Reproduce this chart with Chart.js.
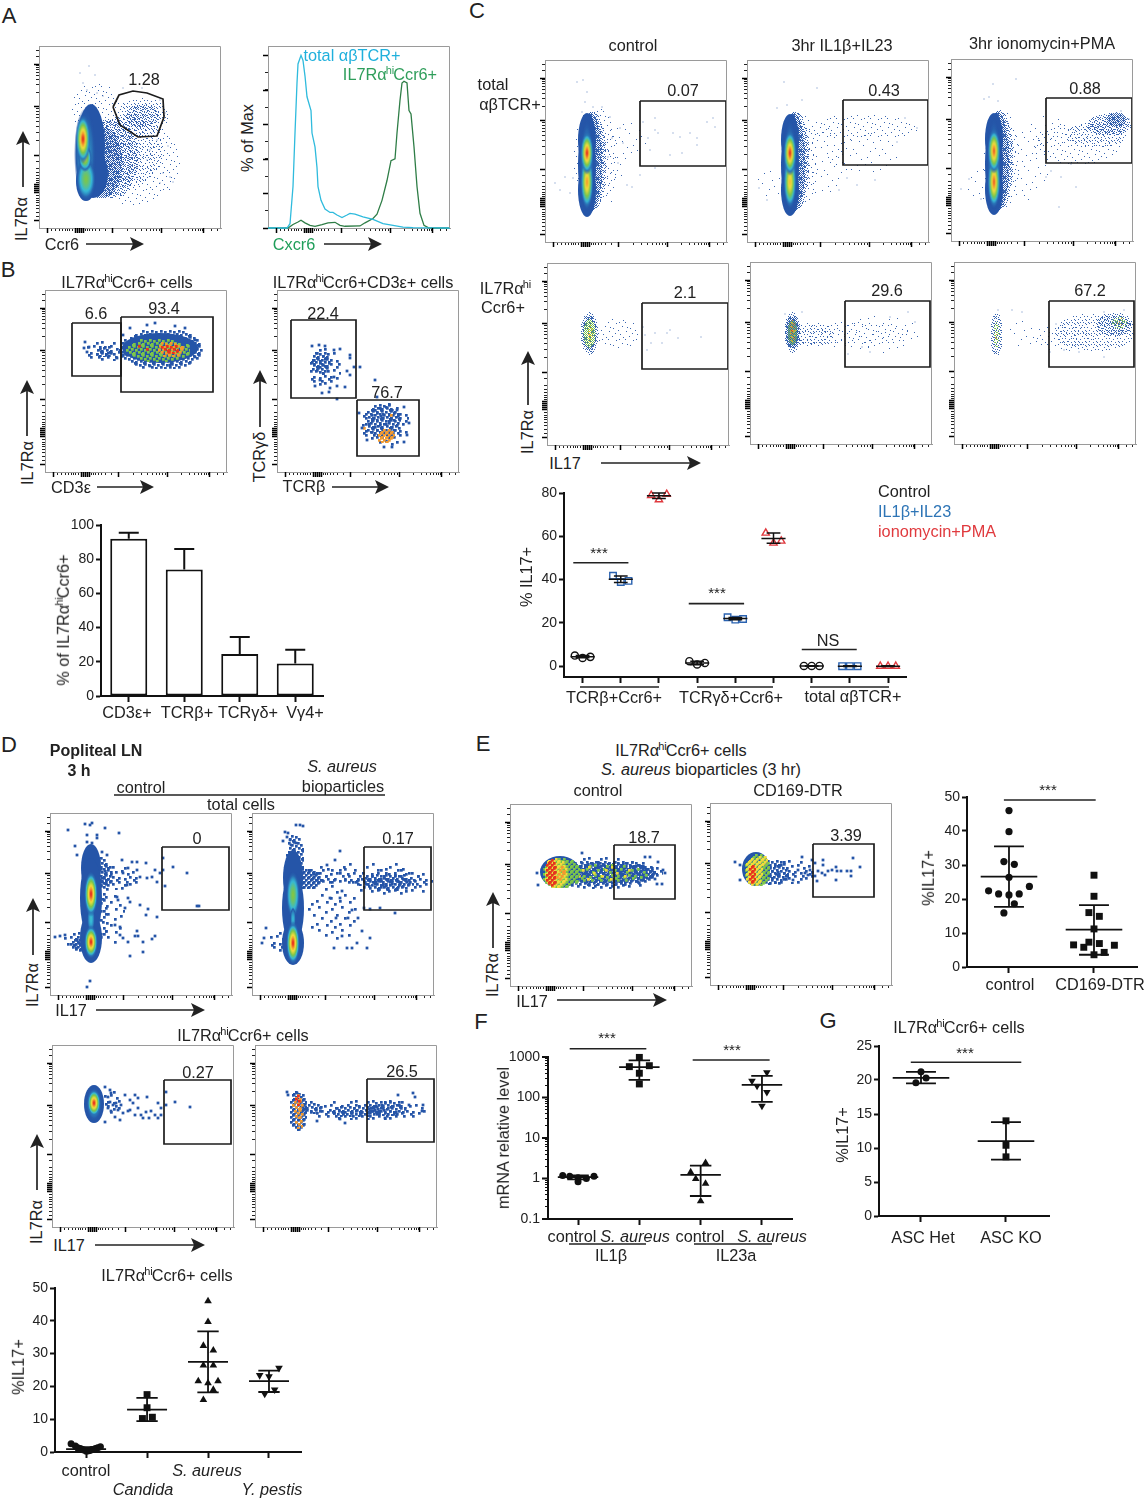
<!DOCTYPE html>
<html><head><meta charset="utf-8"><title>IL7Ra hi Ccr6+ cells</title>
<script src="https://cdn.jsdelivr.net/npm/chart.js@4"></script>
<style>
html,body{margin:0;padding:0;background:#fff}
#fig{position:relative;width:1146px;height:1500px;overflow:hidden;font-family:"Liberation Sans",Arial,sans-serif;color:#222}
#fig canvas{position:absolute}
#fig svg{position:absolute;left:0;top:0}
.t{position:absolute;white-space:nowrap;line-height:1;font-size:16.3px}
sup{font-size:11px;line-height:0;vertical-align:6px;margin:0 -1px}
</style></head><body><div id="fig"></div>
<script>
/* ---------- panel A histogram: [Cxcr6 channel, % of Max] ---------- */
const histTotal=[[0,0],[19,0],[22,2.5],[25,24],[27,55],[29,84],[30,95],[33,100],[35,97],[37,88],[39,76],[40,74],[43,68],[44,55],[47,47],[49,35],[50,24],[53,16],[57,11],[62,9],[65,9],[69,7.5],[74,6],[79,7.5],[82,8.5],[87,8],[95,6.5],[105,5],[115,2.5],[125,1.5],[135,.5],[145,.2],[182,0]];
const histGated=[[0,0],[20,0],[25,2],[30,3.5],[33,4.5],[37,3],[42,1.5],[47,1],[54,2],[60,3],[67,3.3],[72,1.5],[77,1],[92,1.2],[97,3],[105,5.5],[109,8],[114,16],[119,27.5],[123,39],[127,40],[129,55],[132,74],[134,84],[136,85],[139,84],[141,68],[143,66],[146,47],[149,24],[152,8.5],[156,1.5],[161,0],[182,0]];
/* ---------- panel B bars ---------- */
const barCats=['CD3ε+','TCRβ+','TCRγδ+','Vγ4+'];
const barVals=[92,74,24.5,19];
const barErrTop=[95.5,86,34.5,27];
/* ---------- panel C %IL17+ : [category position, value] ---------- */
const cCtrl=[[.797,4.9],[1,3.8],[1.203,4.3],[3.797,2.3],[4,.8],[4.203,1.5],[6.797,.1],[7,.1],[7.203,.1]];
const cIL=[[1.797,41.8],[2,38.9],[2.203,39.4],[4.797,22.6],[5,21.5],[5.203,21.8],[7.797,0],[8,0],[8.203,0]];
const cIono=[[2.797,78.9],[3,76.9],[3.203,79.4],[5.797,61.5],[6,56.9],[6.203,57.8],[8.797,0],[9,0],[9.203,0]];
const cStats=[[1,4.4,3.9,4.9],[2,40.1,38.6,41.6],[3,78.7,77.5,80],[4,1.5,.7,2.3],[5,22,21.5,22.5],[6,59,56.8,61.5],[7,.1,0,.2],[8,0,-.2,.2],[9,0,-.2,.2]];
const cSig=[[.756,2.2,47.8],[3.78,5.23,28.9],[6.74,8.18,7.7]];
/* ---------- panel D dot plot ---------- */
const dCtrl=[[.754,2.5],[.825,1.8],[.863,1.3],[.907,1.1],[.934,.8],[.962,.6],[1.005,.2],[1.044,.4],[1.07,.5],[1.098,.8],[1.153,1.1],[1.19,1.3],[1.235,1.6]];
const dCandida=[[2,17.5],[2,13.5],[1.924,10.2],[2.087,10.6]];
const dAureus=[[3,46],[3,39.7],[2.924,32.4],[3.087,31],[2.924,26.4],[3.087,26.4],[2.84,21.6],[3,21],[3.164,21.6],[3.087,19],[2.924,15.9]];
const dPestis=[[4.164,25.6],[3.847,23.4],[4,23],[4.093,19],[3.93,17.7]];
const dStats=[[1,.9,.4,1.5],[2,12.9,9.4,16.5],[3,27.5,18.2,36.8],[4,21.6,18.3,24.8]];
/* ---------- panel E dot plot ---------- */
const eCtrl=[[1,46],[1,39.8],[.94,31],[1.063,30.2],[1,26.4],[1.24,23.7],[.76,22.4],[.878,21.5],[1,21.2],[1.12,21.5],[1.063,18.6],[.94,15.9]];
const eDtr=[[2,27],[2,20.8],[1.94,16],[2.063,14.9],[2,11.2],[1.76,6.5],[1.94,7.3],[2.063,6.9],[2.24,6.4],[1.88,5.8],[2.12,4.3],[2,3.6]];
const eStats=[[1,26.6,17.7,35.5],[2,11,3.6,18.2]];
/* ---------- panel F mRNA ---------- */
const fCtrl1=[[.75,1.18],[.864,1.14],[1,.83],[1.136,1],[1.26,1.14],[1,1.04]];
const fAureus1=[[2,977],[1.837,578],[2.163,610],[2,397],[2,216]];
const fCtrl2=[[3.08,2.43],[2.837,1.43],[2.92,.98],[3.08,.75],[3,.277]];
const fAureus2=[[4.08,417],[3.837,258],[3.92,193],[4.08,135],[4,62]];
const fStats=[[1,1.08,.95,1.2],[2,560,272,825],[3,1.23,.37,2.09],[4,204,78,342]];
const fSig=[[.864,2.114,1600],[2.87,4.125,843]];
const fDecades=[.1,1,10,100,1000];
const fMinor=[.2,.3,.4,.5,.6,.7,.8,.9,2,3,4,5,6,7,8,9,20,30,40,50,60,70,80,90,200,300,400,500,600,700,800,900];
/* ---------- panel G ---------- */
const gHet=[[1,21.2],[1.06,20.3],[.94,19.6]];
const gKo=[[2,14],[2,10.4],[2,8.7]];
const gStats=[[1,20.3,19.5,21.2],[2,11,8.3,13.8]];
/* ---------- flow cytometry plot axes (channel positions, shared) ---------- */
const flowMinor=[12,16,20,23,26,28,30,33,46,48,50,53,56,60,66,88,96,102,107,111,114,117,120,136,144,149,153,156,159,161,163,172,178];
const flowMajor=[8,36,38,40,42,44,73,122,164];
const histMajor=[0,20,40,60,80,100];
const histMinor=[10,30,50,70,90];
/* ---------- flow gates: corners ---------- */
const gateA=[[74,61],[80,49],[94,45],[108,47],[124,53],[125,71],[118,90],[99,91],[81,79],[74,61]];
const gatesB1=[[27,33,76,86],[76,27,168,102]];
const gatesB2=[[14,30,79,108],[80,110,142,166]];
const gatesC1=[[95,41,181,106]],gatesC2=[[96,40,181,105]],gatesC3=[[95,39,181,104]];
const gatesC4=[[95,40,181,106]],gatesC5=[[95,39,180,105]],gatesC6=[[95,39,180,105]];
const gatesD1=[[112,34,179,97]],gatesD2=[[112,34,179,97]],gatesD3=[[112,35,179,99]],gatesD4=[[112,34,179,97]];
const gatesE1=[[104,41,165,95]],gatesE2=[[103,41,164,94]];
/* ---------- density clouds: [x,y,spreadX,spreadY,level]; level number=density peak, string=sparse region ---------- */
const cloudsA=[[95,115,46,44,'f1b'],[56,62,24,26,'f1b'],[85,105,38,36,'f2b'],[102,70,27,19,'f2b'],[103,69,17,12,'f3b'],[72,112,27,40,'f3b'],[62,116,21,36,'f4b'],[52,100,14,42,0],[54,128,15,24,0],[47,135,10,20,0],[46,108,11,46,.2],[47,133,10,22,.5],[46,112,7,14,.68],[44,93,7.5,25,1]];
const cloudsC1=[[50,95,22,48,'f1b'],[75,80,28,20,'f0b'],[55,115,24,30,'f0b'],[47,100,14,50,'f3b'],[45,102,12,50,'f4b'],[42,80,9,27,0],[42,130,9,27,0],[42,105,9,40,0],[42,105,7,46,.22],[42,122,6.5,28,.88],[42,93,6.5,22,1]];
const cloudsC2=[[115,67,56,13,'f1b'],[115,92,36,20,'f0b'],[75,100,25,36,'f0b'],[25,125,18,15,'f0b'],[52,100,18,48,'f1b'],[48,100,14,50,'f3b'],[46,102,12,50,'f4b'],[43,80,9,26,0],[43,130,9,26,0],[43,105,9,40,0],[43,105,7,46,.22],[43,122,6.5,27,.82],[43,93,6.5,23,1]];
const cloudsC3=[[125,85,46,20,'f1b'],[100,72,24,16,'f0b'],[70,105,30,36,'f0b'],[30,125,14,16,'f0b'],[145,75,30,14,'f2b'],[158,65,22,11,'f3b'],[165,60,10,7,'f4b'],[50,100,18,50,'f1b'],[48,100,14,50,'f3b'],[46,102,12,50,'f4b'],[43,80,9,26,0],[43,130,9,26,0],[43,105,9,40,0],[43,105,7,46,.22],[43,123,6.5,27,.95],[43,92,6.5,23,.95]];
const cloudsC4=[[70,70,22,15,'f1b'],[42,70,9,21,'f3b'],[42,70,7,17,'f4b'],[42,70,6,14,'f4g'],[43,70,3,9,'f3y'],[42,68,2,6,'f2o']];
const cloudsC5=[[125,72,46,19,'f0b'],[100,72,60,13,'f1b'],[62,72,22,12,'f2b'],[42,70,8,20,'f3b'],[42,70,7,16,'f4b'],[42,70,5,13,'f4g'],[42,68,3,11,'f3o'],[42,64,2,5,'f2r']];
const cloudsC6=[[110,75,30,14,'f1b'],[70,72,18,14,'f0b'],[140,70,40,19,'f2b'],[160,62,18,12,'f3b'],[165,60,8,6,'f3g'],[165,59,4,4,'f2o'],[42,72,6,22,'f3b'],[42,72,3,13,'f3g'],[42,72,2,6,'f2o']];
const cloudsB1=[[60,60,20,10,'c2b'],[58,60,10,6,'c3b'],[115,58,42,20,'c3b'],[115,58,38,15,0],[112,59,32,12,'c3g'],[95,55,8,8,'c1r'],[124,58,14,8,'c3o'],[124,58,9,5,'c3r']];
const cloudsB2=[[47,77,16,20,'c2b'],[42,72,10,12,'c3b'],[107,133,24,22,'c2b'],[105,130,18,18,'c3b'],[108,145,9,7,'c4o'],[103,123,4,3,'c2r'],[115,125,3,3,'c1o'],[88,138,3,3,'c1o']];
const cloudsD1=[[68,64,22,12,'c2b'],[60,105,14,28,'c1b'],[30,127,18,9,'c2b'],[50,60,12,16,'c3b'],[50,90,8,40,'c2b'],[32,130,12,8,'c4b'],[41,55,10,24,0],[41,85,11,40,0],[41,125,11,25,0],[41,106,4,15,.28],[41,129,7,17,1],[41,81,7,23,1]];
const cloudsD2=[[80,100,25,30,'c1b'],[110,60,60,12,'c1b'],[140,68,40,14,'c2b'],[135,68,26,9,'c3b'],[85,62,26,8,'c2b'],[30,128,14,11,'c2b'],[55,65,14,10,'c4b'],[42,45,9,25,'c3b'],[41,65,10,28,0],[41,95,11,36,0],[41,130,11,22,0],[41,82,7,24,.52],[41,106,3,12,.25],[41,130,7,22,1]];
const cloudsD3=[[60,56,10,12,'c2b'],[42,59,10,19,0],[42,59,8,17,.3],[42,58,7,14,1]];
const cloudsD4=[[110,64,60,10,'c2b'],[100,65,30,6,'c3b'],[130,62,20,8,'c3b'],[42,65,9,20,'c4b'],[55,62,12,6,'c3b'],[42,60,6,13,'c3o'],[42,55,3,5,'c3r'],[43,78,4,5,'c3o']];
const cloudsE1=[[90,68,62,16,'c2b'],[95,68,52,13,'c3b'],[95,68,50,10,'c4b'],[95,68,44,9,'c2g'],[90,68,36,8,'c1y'],[50,68,20,16,0],[50,68,19,15,'c4g'],[45,68,12,15,'c4y'],[40,68,6,14,'c4r'],[50,68,5,8,'c3o']];
const cloudsE2=[[75,68,30,12,'c2b'],[60,68,18,13,'c3b'],[46,66,14,17,0],[46,66,13,16,'c4g'],[43,68,9,14,'c4y'],[41,70,4,11,'c4r'],[52,57,5,5,'c4y']];
/* ---------- sparse events ---------- */
const dotsA=[[50,20],[41,27],[56,29],[44,37],[48,44],[58,47],[64,50],[129,100],[134,136],[121,137],[124,127],[131,131],[84,42],[103,42],[121,54],[126,67],[118,94],[111,104],[108,114],[98,121],[88,131]];
const dotsC1=[[65,57],[75,68],[78,83],[67,78],[63,97],[73,103],[82,125],[87,127],[95,115],[110,108],[110,58],[98,62],[110,70],[103,78],[113,73],[105,90],[125,95],[135,77],[145,73],[152,78],[162,62],[168,58],[170,67],[152,85],[128,73],[137,93],[20,117],[15,130],[10,123],[25,133],[28,118],[32,22],[38,20],[42,32],[40,42],[57,47],[37,52],[48,47]];
const dotsC2=[[37,22],[40,45],[30,48],[55,40],[70,28],[158,58],[170,68],[150,82],[128,120],[110,125],[100,118],[12,128],[20,140],[92,130]];
const dotsC3=[[42,25],[38,38],[33,40],[47,42],[65,20],[170,52],[178,60],[120,105],[100,112],[125,128],[95,118],[108,148],[110,118],[18,120],[10,130],[30,140]];
const dotsC4=[[98,72],[104,80],[108,70],[131,75],[154,74],[123,67],[115,80],[100,87],[96,64],[120,70]];
const dotsC5=[[35,52],[52,50],[158,50],[165,60],[112,85],[98,92],[120,90],[140,55]];
const dotsC6=[[44,48],[58,48],[68,50],[102,62],[110,88],[125,90],[150,95],[96,90],[150,50],[170,48]];
const dotsB1=[[39,58],[44,57],[150,50],[152,58],[150,67],[110,33],[102,35],[42,62],[40,52],[78,45],[72,68],[85,38],[130,36],[140,38],[125,75],[105,76]];
const dotsB2=[[42,55],[48,56],[35,56],[57,60],[63,59],[73,65],[73,68],[83,77],[77,77],[70,81],[73,85],[68,97],[60,96],[53,98],[45,103],[52,102],[60,109],[38,96],[43,90],[57,87],[98,90],[100,107],[127,117],[132,133],[130,145],[127,152],[120,120],[82,123],[85,138],[90,150],[107,157],[115,157]];
const dotsD1=[[42,10],[35,11],[40,12],[18,17],[55,15],[69,20],[37,22],[47,22],[47,25],[37,29],[42,30],[25,33],[27,42],[52,39],[57,42],[72,47],[82,49],[87,49],[96,50],[78,55],[87,57],[105,57],[110,60],[73,60],[90,64],[97,65],[102,64],[107,69],[115,73],[113,57],[113,45],[123,54],[137,60],[147,93],[149,93],[77,72],[78,85],[80,89],[67,84],[68,87],[75,95],[90,92],[98,96],[96,102],[107,104],[65,112],[70,114],[87,118],[88,123],[70,122],[73,125],[78,129],[85,123],[105,123],[102,126],[93,129],[80,143],[93,139],[5,124],[10,123],[15,122],[40,168],[37,174]];
const dotsD2=[[48,12],[51,13],[44,12],[33,19],[36,20],[31,28],[35,24],[38,27],[39,32],[44,30],[88,38],[83,47],[75,52],[90,78],[100,97],[112,95],[118,96],[128,95],[143,100],[110,118],[118,125],[100,135],[105,130],[95,135],[115,135],[82,135],[90,123],[78,85],[88,85],[84,105],[96,105],[106,105],[14,115],[12,125],[10,130]];
const dotsD3=[[53,42],[58,45],[59,48],[56,52],[58,57],[61,60],[64,58],[69,60],[66,65],[56,63],[59,66],[63,72],[68,75],[53,77],[73,50],[78,55],[83,50],[86,53],[95,52],[81,58],[86,63],[78,65],[71,68],[76,66],[83,70],[89,70],[91,73],[97,73],[94,67],[103,70],[99,66],[109,63],[106,58],[109,70],[114,47],[114,60],[123,57],[138,62],[106,73]];
const dotsD4=[[32,47],[42,48],[33,50],[90,78],[85,74],[62,76],[167,66],[158,48],[143,50],[130,73],[160,52],[154,60],[168,60]];
const dotsE1=[[27,69],[28,81],[32,66],[72,49],[153,66],[152,80],[147,80],[140,53],[135,53],[155,69],[145,75],[148,58]];
const dotsE2=[[25,59],[30,62],[30,77],[92,54],[102,57],[105,60],[113,57],[113,62],[108,68],[105,73],[107,78],[118,68],[122,67],[126,64],[126,77],[127,68],[131,68],[137,68],[141,68],[141,73],[143,55],[150,64],[112,70],[115,72],[100,67],[98,72],[95,70],[88,67],[83,77]];
/* ---------- text ---------- */
const A='IL7Rα',HI=A+'<sup>hi</sup>Ccr6+';
const texts=[
['A',9,16,{s:22}],['B',8,270,{s:22}],['C',477,11,{s:22}],['D',9,745,{s:22}],['E',483,744,{s:22}],['F',481,1022,{s:22}],['G',828,1021,{s:22}],
[A,21,219,{r:1}],['Ccr6',62,244],['1.28',144,79],['% of Max',247,138,{r:1}],['Cxcr6',294,244,{c:'#1f9e5a'}],['total αβTCR+',352,55,{c:'#1fb0dc'}],[HI,390,74,{c:'#2f9e5b'}],
[HI+' cells',127,282],[HI+'CD3ε+ cells',363,282],
['6.6',96,313],['93.4',164,308],['22.4',323,313],['76.7',387,392],[A,27,463,{r:1}],['CD3ε',71,487],['TCRγδ',259,457,{r:1}],['TCRβ',304,486],
['% of '+HI,63,620,{r:1}],[barCats[0],127,712],[barCats[1],187,712],[barCats[2],248,712],[barCats[3],305,712],
['control',633,45],['3hr IL1β+IL23',842,45],['3hr ionomycin+PMA',1042,43],['total',493,84],['αβTCR+',510,104],[A+'<sup>hi</sup>',505,288],['Ccr6+',503,307],
['0.07',683,90],['0.43',884,90],['0.88',1085,88],['2.1',685,292],['29.6',887,290],['67.2',1090,290],[A,527,432,{r:1}],['IL17',565,463],
['Control',878,491,{a:'l'}],['IL1β+IL23',878,511,{a:'l',c:'#2e75b6'}],['ionomycin+PMA',878,531,{a:'l',c:'#e03a3e'}],
['% IL17+',526,577,{r:1}],['***',599,552,{s:15}],['***',717,592,{s:15}],['NS',828,640],['TCRβ+Ccr6+',614,697],['TCRγδ+Ccr6+',731,697],['total αβTCR+',853,696],
['Popliteal LN',96,751,{b:1,s:16}],['3 h',79,771,{b:1,s:16}],['control',141,787],['<i>S. aureus</i>',342,766],['bioparticles',343,786],['total cells',241,804],
['0',197,838],['0.17',398,838],[A,32,985,{r:1}],['IL17',71,1010],[HI+' cells',243,1035],['0.27',198,1072],['26.5',402,1071],[A,36,1222,{r:1}],['IL17',69,1245],
[HI+' cells',167,1275],['%IL17+',18,1367,{r:1}],['control',86,1470],['<i>Candida</i>',143,1489],['<i>S. aureus</i>',207,1470],['<i>Y. pestis</i>',272,1489],
[HI+' cells',681,750],['<i>S. aureus</i> bioparticles (3 hr)',701,769],['control',598,790],['CD169-DTR',798,790],['18.7',644,837],['3.39',846,835],[A,492,975,{r:1}],['IL17',532,1001],
['%IL17+',928,878,{r:1}],['***',1048,789,{s:15}],['control',1010,984],['CD169-DTR',1100,984],
['***',607,1037,{s:15}],['***',732,1049,{s:15}],['mRNA relative level',503,1138,{r:1}],['control',572,1236],['<i>S. aureus</i>',635,1236],['control',700,1236],['<i>S. aureus</i>',772,1236],['IL1β',611,1255],['IL23a',736,1255],
[HI+' cells',959,1027],['***',965,1052,{s:15}],['%IL17+',842,1135,{r:1}],['ASC Het',923,1237],['ASC KO',1011,1237]
];
/* decoration: arrows and group underlines */
const arrows=[[23,187,23,131],[86,244,144,244],[324,244,382,244],[27,436,27,380],[97,487,154,487],[260,427,260,370],[332,487,389,487],[528,405,528,351],[601,463,701,463],[33,955,33,898],[96,1010,205,1010],[37,1190,37,1134],[95,1245,205,1245],[493,948,493,892],[557,1000,667,1000]];
const rules=[[580,687,659,687],[697,687,773,687],[810,687,889,687],[114,795,385,795],[569,1244,646,1244],[694,1244,772,1244]];

const FONT='"Liberation Sans",Arial,sans-serif';
Chart.defaults.font.family=FONT;Chart.defaults.color='#222';
const fig=document.getElementById('fig');
const pts=a=>a.map(p=>({x:p[0],y:p[1]}));

function newCanvas(l,t,w,h){const c=document.createElement('canvas');c.width=w;c.height=h;c.style.cssText=`left:${l}px;top:${t}px;width:${w}px;height:${h}px`;fig.appendChild(c);return c}
const base=()=>({responsive:false,animation:false,events:[],plugins:{legend:{display:false},tooltip:{enabled:false}}});

/* density sprite used as the point style */
const STOPS=[[0,[37,85,168]],[.25,[54,185,214]],[.5,[124,198,74]],[.75,[240,220,60]],[.88,[243,154,46]],[1,[229,40,30]]];
function cmap(p,al=1){let i=1;while(i<STOPS.length-1&&p>STOPS[i][0])i++;const [a,ca]=STOPS[i-1],[b,cb]=STOPS[i];const t=Math.min(1,Math.max(0,(p-a)/(b-a)));const c=ca.map((v,j)=>Math.round(v+(cb[j]-v)*t));return `rgba(${c[0]},${c[1]},${c[2]},${al})`}
const TILES={
 f0:[29,[[3,5],[17,2],[26,9],[9,14],[21,17],[2,22],[13,26],[25,24],[7,28],[19,11],[11,4],[28,18],[5,10],[16,20]]],
 f1:[17,[[1,2],[9,0],[14,5],[5,6],[11,9],[2,11],[7,13],[15,14],[12,3],[4,16],[8,5],[16,10]]],
 f2:[11,[[0,1],[3,0],[7,2],[10,0],[1,4],[5,5],[9,4],[3,7],[7,8],[0,8],[10,7],[5,10],[2,10],[8,10]]],
 f3:[7,[[0,0],[2,1],[5,0],[1,3],[4,2],[6,3],[3,4],[0,5],[5,5],[2,6],[6,6],[3,1],[4,5]]],
 f4:[2,[[0,0],[1,1]]],
 c1:[23,[[2,3],[12,1],[19,6],[7,9],[15,12],[1,15],[10,18],[20,19],[5,21]]],
 c2:[17,[[0,2],[6,0],[12,3],[3,7],[9,6],[15,9],[0,12],[6,13],[12,14],[14,0],[4,15]]],
 c3:[9,[[0,0],[4,1],[7,3],[2,4],[5,6],[0,7],[8,8]]],
 c4:[5,[[0,0],[3,2],[1,4]]]};
const HUES={b:'#2555a8',g:'#7cc64a',y:'#f0dc3c',o:'#f39a2e',r:'#e8321e',c:'#3cbcd8'};
const cache={};
function sprite(r){const key=[r.rx,r.ry,r.k].join();if(cache[key])return cache[key];
 const w=Math.ceil(r.rx*2)+2,h=Math.ceil(r.ry*2)+2,c=document.createElement('canvas');c.width=w;c.height=h;const g=c.getContext('2d');const cx=w/2,cy=h/2;
 if(typeof r.k==='number'){g.translate(cx,cy);g.scale(r.rx,r.ry);g.beginPath();g.arc(0,0,1,0,Math.PI*2);
  if(r.k===0){g.fillStyle=cmap(0)}else{const gr=g.createRadialGradient(0,0,0,0,0,1);for(let t=0;t<=.85;t+=.05)gr.addColorStop(t,cmap(r.k*(1-Math.pow(t/.85,1.6))));gr.addColorStop(1,cmap(0,0));g.fillStyle=gr}
  g.fill();}
 else{const [st,offs]=TILES[r.k.slice(0,2)],coarse=r.k[0]==='c',sz=coarse?2.7:1;g.fillStyle=HUES[r.k[2]];g.globalAlpha=coarse?1:.9;
  for(let y=0;y<h;y+=st)for(let x=0;x<w;x+=st)for(const o of offs){const px=x+o[0],py=y+o[1];const dx=(px-cx)/r.rx,dy=(py-cy)/r.ry;if(dx*dx+dy*dy<=1)g.fillRect(px,py,sz,sz)}}
 cache[key]=c;return c}

function pin(v,prop){return s=>{s[prop]=v;s.paddingLeft=s.paddingRight=s.paddingTop=s.paddingBottom=0}}

function flowAxis(size,tickList,rev){return {type:'linear',min:0,max:size,reverse:!!rev,afterBuildTicks:s=>{s.ticks=tickList.map(v=>({value:v}))},ticks:{display:false,autoSkip:false},grid:{drawOnChartArea:false,tickLength:3,tickWidth:1,tickColor:'#222'},border:{color:'#9a9a9a',width:1}}}
function frame(xMajor,yMajor){return {id:'frame',afterDraw(ch){const a=ch.chartArea,c=ch.ctx,X=ch.scales.x,Y=ch.scales.y;c.save();c.strokeStyle='#9a9a9a';c.lineWidth=1;c.beginPath();c.moveTo(a.left,a.top+.5);c.lineTo(a.right-.5,a.top+.5);c.lineTo(a.right-.5,a.bottom);c.stroke();
 c.strokeStyle='#000';c.lineWidth=1.5;c.beginPath();for(const v of xMajor){const p=Math.round(X.getPixelForValue(v))+.5;c.moveTo(p,a.bottom);c.lineTo(p,a.bottom+5)}for(const v of yMajor){const p=Math.round(Y.getPixelForValue(v))+.5;c.moveTo(a.left,p);c.lineTo(a.left-5,p)}c.stroke();c.restore()}}}

function flow(l,t,clouds,dots,gates,coarse){const mL=7,mB=7,mT=8,mR=8,S=182;
 const cv=newCanvas(l-mL,t-mT,S+mL+mR,S+mT+mB);
 const ds=[];
 for(const g of gates){const path=g.length===4&&!Array.isArray(g[0])?[[g[0],g[1]],[g[2],g[1]],[g[2],g[3]],[g[0],g[3]],[g[0],g[1]]]:g;
  ds.push({type:'line',data:pts(path),borderColor:'#1c1c1c',borderWidth:1.7,pointRadius:0,tension:0,fill:false,clip:false})}
 ds.push({data:pts(dots),pointStyle:'rect',pointRadius:coarse?1.95:.75,pointBorderWidth:0,backgroundColor:coarse?'#2555a8':'rgba(37,85,168,.7)',borderWidth:0});
 ds.push({data:clouds.map(c=>({x:c[0],y:c[1],rx:c[2],ry:c[3],k:c[4]})),pointRadius:1,pointBorderWidth:0,borderWidth:0,pointStyle:ctx=>ctx.raw?sprite(ctx.raw):'circle'});
 const xs=flowAxis(S,flowMinor,false),ys=flowAxis(S,flowMinor.map(v=>S-v),true);
 xs.afterFit=pin(mB,'height');ys.afterFit=pin(mL,'width');
 const o=base();o.layout={padding:{top:mT,right:mR,left:0,bottom:0}};o.scales={x:xs,y:ys};
 new Chart(cv,{type:'scatter',data:{datasets:ds},options:o,plugins:[frame(flowMajor,flowMajor.map(v=>S-v))]})}

/* FACS panels */
flow(39,46,cloudsA,dotsA,[gateA],false);
flow(45,290,cloudsB1,dotsB1,gatesB1,true);
flow(277,290,cloudsB2,dotsB2,gatesB2,true);
flow(545,60,cloudsC1,dotsC1,gatesC1,false);
flow(747,60,cloudsC2,dotsC2,gatesC2,false);
flow(951,59,cloudsC3,dotsC3,gatesC3,false);
flow(547,263,cloudsC4,dotsC4,gatesC4,false);
flow(750,262,cloudsC5,dotsC5,gatesC5,false);
flow(954,262,cloudsC6,dotsC6,gatesC6,false);
flow(50,813,cloudsD1,dotsD1,gatesD1,true);
flow(252,813,cloudsD2,dotsD2,gatesD2,true);
flow(52,1045,cloudsD3,dotsD3,gatesD3,true);
flow(255,1045,cloudsD4,dotsD4,gatesD4,true);
flow(510,804,cloudsE1,dotsE1,gatesE1,true);
flow(710,803,cloudsE2,dotsE2,gatesE2,true);

/* histogram */
(function(){const mL=7,mB=7,mT=8,mR=8,S=182,cv=newCanvas(268-mL,46-mT,S+mL+mR,S+mT+mB);
 const xs=flowAxis(S,flowMinor,false),ys=flowAxis(105.4,histMinor.concat(histMajor),false);
 xs.afterFit=pin(mB,'height');ys.afterFit=pin(mL,'width');
 const o=base();o.layout={padding:{top:mT,right:mR}};o.scales={x:xs,y:ys};
 new Chart(cv,{type:'line',data:{datasets:[
  {data:pts(histTotal),borderColor:'#2fbbdd',borderWidth:1.3,pointRadius:0,tension:0,clip:false},
  {data:pts(histGated),borderColor:'#2e7d46',borderWidth:1.3,pointRadius:0,tension:0,clip:false}]},options:o,plugins:[frame(flowMajor,histMajor)]})})();

/* bar chart */
(function(){const l=101,t=525,r=323,b=696,mL=48,mB=12,mT=10,mR=12,cv=newCanvas(l-mL,t-mT,r-l+mL+mR,b-t+mT+mB);
 const o=base();o.layout={padding:{top:mT,right:mR}};
 o.scales={x:{type:'category',offset:true,ticks:{display:false},grid:{drawOnChartArea:false,tickLength:6,tickWidth:2,tickColor:'#111',offset:false},border:{color:'#111',width:2},afterFit:pin(mB,'height')},
  y:{min:0,max:100,afterBuildTicks:s=>{s.ticks=[0,20,40,60,80,100].map(v=>({value:v}))},ticks:{font:{size:14},padding:2},grid:{drawOnChartArea:false,tickLength:5,tickWidth:2,tickColor:'#111'},border:{color:'#111',width:2},afterFit:pin(mL,'width')}};
 const errBars={id:'errBars',afterDatasetsDraw(ch){const c=ch.ctx,X=ch.scales.x,Y=ch.scales.y;c.save();c.strokeStyle='#111';c.lineWidth=2;c.beginPath();barVals.forEach((v,i)=>{const p=X.getPixelForValue(i),a=Y.getPixelForValue(v),h=Y.getPixelForValue(barErrTop[i]);c.moveTo(p,a);c.lineTo(p,h);c.moveTo(p-10,h);c.lineTo(p+10,h)});c.stroke();c.restore()}};
 new Chart(cv,{type:'bar',data:{labels:barCats,datasets:[{data:barVals,backgroundColor:'#fff',borderColor:'#111',borderWidth:2,borderSkipped:false,barPercentage:.667,categoryPercentage:1}]},options:o,plugins:[errBars]})})();

/* dot plots */
function statPath(s,w,cap){const [c,m,lo,hi]=s;return [[c-cap,hi],[c+cap,hi],[c,hi],[c,lo],[c-cap,lo],[c+cap,lo],[c,lo],[c,m],[c-w,m],[c+w,m]]}
function dotChart(o){const [l,t,r,b]=o.box,mL=48,mB=12,mT=12,mR=12,cv=newCanvas(l-mL,t-mT,r-l+mL+mR,b-t+mT+mB);const ds=[];
 const lw=o.lw||1.8;
 for(const s of o.stats)ds.push({type:'line',data:pts(statPath(s,o.w,o.cap)),borderColor:'#111',borderWidth:lw,pointRadius:0,tension:0,clip:false});
 for(const s of (o.sig||[]))ds.push({type:'line',data:[{x:s[0],y:s[2]},{x:s[1],y:s[2]}],borderColor:'#222',borderWidth:1.6,pointRadius:0,clip:false});
 for(const m of o.marks)ds.push({data:pts(m.d),pointStyle:m.st,pointRadius:m.r,pointRotation:m.rot||0,backgroundColor:m.open?'rgba(0,0,0,0)':m.col,borderColor:m.col,borderWidth:m.open?1.4:0,pointBorderWidth:m.open?1.4:0,clip:false});
 const op=base();op.layout={padding:{top:mT,right:mR}};
 const xTicks=o.xTicks;
 op.scales={x:{type:'linear',min:o.xr[0],max:o.xr[1],afterBuildTicks:s=>{s.ticks=xTicks.map(v=>({value:v}))},ticks:{display:false},grid:{drawOnChartArea:false,tickLength:6,tickWidth:2,tickColor:'#111'},border:{color:'#111',width:2},afterFit:pin(mB,'height')},
  y:{type:o.log?'logarithmic':'linear',min:o.yr[0],max:o.yr[1],afterBuildTicks:s=>{s.ticks=o.yTicks.map(v=>({value:v}))},ticks:{autoSkip:false,font:{size:14},padding:o.log?5:2,callback:v=>o.yLabel(v)},grid:{drawOnChartArea:false,tickLength:o.log?3:5,tickWidth:o.log?1:2,tickColor:'#111'},border:{color:'#111',width:2},afterFit:pin(mL,'width')}};
 const pl=o.log?[{id:'major',afterDraw(ch){const c=ch.ctx,a=ch.chartArea,Y=ch.scales.y;c.save();c.strokeStyle='#111';c.lineWidth=2;c.beginPath();for(const v of o.yMajor){const p=Y.getPixelForValue(v);c.moveTo(a.left,p);c.lineTo(a.left-6,p)}c.stroke();c.restore()}}]:[];
 new Chart(cv,{type:'scatter',data:{datasets:ds},options:op,plugins:pl})}
const plain=v=>String(v);
const K='#111';
dotChart({box:[564,493,906,677],xr:[.513,9.47],yr:[-5,80],yTicks:[0,20,40,60,80],yLabel:plain,xTicks:[1,2,3,4,5,6,7,8,9],stats:cStats,w:.316,cap:.18,lw:1.5,sig:cSig,
 marks:[{d:cCtrl,st:'circle',r:3.6,col:K,open:1},{d:cIL,st:'rect',r:4.6,col:'#2a62b0',open:1},{d:cIono,st:'triangle',r:4.2,col:'#e0393e',open:1}]});
dotChart({box:[55,1288,301,1452],xr:[.49,4.525],yr:[0,50],yTicks:[0,10,20,30,40,50],yLabel:plain,xTicks:[1,2,3,4],stats:dStats,w:.328,cap:.175,
 marks:[{d:dCtrl,st:'circle',r:3.5,col:K},{d:dCandida,st:'rect',r:4.9,col:K},{d:dAureus,st:'triangle',r:4.4,col:K},{d:dPestis,st:'triangle',r:4.4,rot:180,col:K}]});
dotChart({box:[967,797,1137,967],xr:[.506,2.506],yr:[0,50],yTicks:[0,10,20,30,40,50],yLabel:plain,xTicks:[1,2],stats:eStats,w:.333,cap:.176,sig:[[.94,2.02,49.1]],
 marks:[{d:eCtrl,st:'circle',r:3.6,col:K},{d:eDtr,st:'rect',r:4.9,col:K}]});
dotChart({box:[548,1057,792,1219],xr:[.51,4.49],yr:[.1,1000],log:true,yTicks:fDecades.concat(fMinor),yMajor:fDecades,yLabel:v=>fDecades.includes(v)?String(v):'',xTicks:[1,2,3,4],stats:fStats,w:.33,cap:.175,sig:fSig,
 marks:[{d:fCtrl1,st:'circle',r:3.5,col:K},{d:fAureus1,st:'rect',r:4.9,col:K},{d:fCtrl2,st:'triangle',r:4.4,col:K},{d:fAureus2,st:'triangle',r:4.4,rot:180,col:K}]});
dotChart({box:[879,1046,1049,1216],xr:[.506,2.506],yr:[0,25],yTicks:[0,5,10,15,20,25],yLabel:plain,xTicks:[1,2],stats:gStats,w:.333,cap:.176,sig:[[.88,2.18,22.6]],
 marks:[{d:gHet,st:'circle',r:3.5,col:K},{d:gKo,st:'rect',r:4.9,col:K}]});

/* text */
for(const [h,x,y,o={}] of texts){const e=document.createElement('div');e.className='t';e.innerHTML=h;
 e.style.left=x+'px';e.style.top=y+'px';if(o.s)e.style.fontSize=o.s+'px';if(o.c)e.style.color=o.c;if(o.b)e.style.fontWeight='bold';
 e.style.transform=(o.a==='l'?'translate(0,-50%)':'translate(-50%,-50%)')+(o.r?' rotate(-90deg)':'');fig.appendChild(e)}
/* arrows */
let svg='<svg width="1146" height="1500" xmlns="http://www.w3.org/2000/svg">';
for(const [x1,y1,x2,y2] of arrows){const d=Math.hypot(x2-x1,y2-y1),ux=(x2-x1)/d,uy=(y2-y1)/d,L=14,W=7,bx=x2-ux*L,by=y2-uy*L,nx=x2-ux*(L-3),ny=y2-uy*(L-3);
 svg+=`<line x1="${x1}" y1="${y1}" x2="${nx}" y2="${ny}" stroke="#222" stroke-width="1.7"/><polygon fill="#222" points="${x2},${y2} ${bx-uy*W},${by+ux*W} ${nx},${ny} ${bx+uy*W},${by-ux*W}"/>`}
for(const [x1,y1,x2,y2] of rules)svg+=`<line x1="${x1}" y1="${y1}" x2="${x2}" y2="${y2}" stroke="#222" stroke-width="1.6"/>`;
fig.insertAdjacentHTML('beforeend',svg+'</svg>');
</script></body></html>
